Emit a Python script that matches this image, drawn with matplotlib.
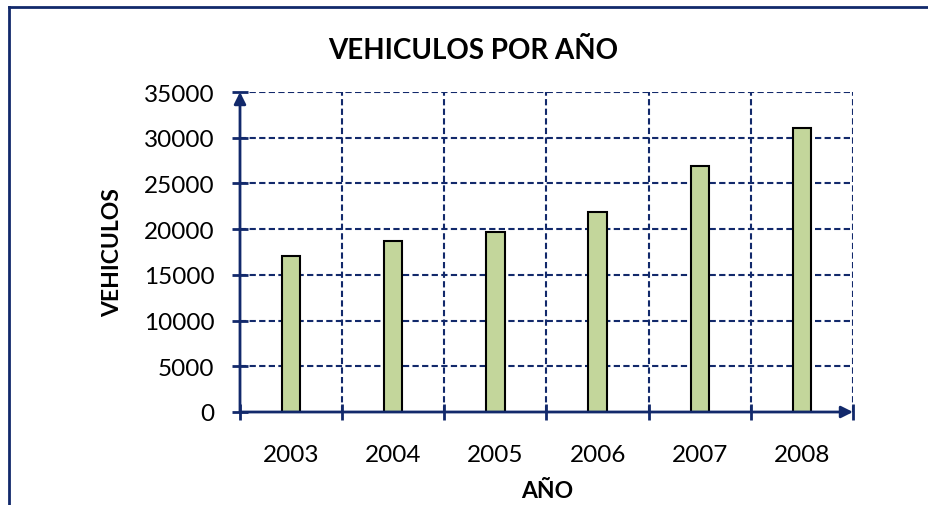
import matplotlib
matplotlib.use("Agg")
import matplotlib.pyplot as plt
from matplotlib.lines import Line2D

plt.rcParams['font.family'] = ['Lato', 'DejaVu Sans']

years = ["2003", "2004", "2005", "2006", "2007", "2008"]
vehiculos = [17100, 18700, 19700, 21900, 26900, 31100]
y_ticks = [0, 5000, 10000, 15000, 20000, 25000, 30000, 35000]

NAVY = "#12296b"
BAR_FILL = "#c3d69b"

fig = plt.figure(figsize=(9.29, 5.06), dpi=100)
W, H = 929, 506
ax = fig.add_axes([240 / W, (H - 413) / H, 613 / W, 320 / H])

x = list(range(len(years)))
ax.bar(x, vehiculos, width=0.18, color=BAR_FILL, edgecolor="black",
       linewidth=1.5, zorder=3)

ax.set_xlim(-0.5, len(years) - 0.5)
ax.set_ylim(0, 35000)

for s in ax.spines.values():
    s.set_visible(False)

# category labels (no tick marks) and boundary ticks crossing the axis
ax.set_xticks(x)
ax.set_xticklabels(years)
ax.set_xticks([i - 0.5 for i in range(len(years) + 1)], minor=True)
ax.tick_params(axis="x", which="major", length=0, pad=23, labelsize=17.5)
ax.tick_params(axis="x", which="minor", direction="inout", length=11,
               width=2, color=NAVY)

ax.set_yticks(y_ticks)
ax.set_yticklabels([str(v) for v in y_ticks])
ax.tick_params(axis="y", which="major", direction="inout", length=11,
               width=2, color=NAVY, pad=13, labelsize=17.5)

# dashed grid
for v in y_ticks[1:]:
    ax.axhline(v, color=NAVY, lw=1.5, ls=(0, (3, 1.6)), zorder=1)
for i in range(1, len(years) + 1):
    ax.axvline(i - 0.5, color=NAVY, lw=1.5, ls=(0, (3, 1.6)), zorder=1)

# axes with arrow heads
ax.annotate("", xy=(-0.5, 35000), xytext=(-0.5, 0),
            arrowprops=dict(arrowstyle="-|>,head_length=0.7,head_width=0.35",
                            color=NAVY, lw=2, shrinkA=0, shrinkB=0),
            annotation_clip=False, zorder=4)
ax.annotate("", xy=(len(years) - 0.5, 0), xytext=(-0.5, 0),
            arrowprops=dict(arrowstyle="-|>,head_length=0.7,head_width=0.35",
                            color=NAVY, lw=2, shrinkA=0, shrinkB=0),
            annotation_clip=False, zorder=4)

fig.text(473 / W, 1 - 51 / H, "VEHICULOS POR AÑO", ha="center", va="center",
         fontsize=20, fontweight="bold")
fig.text(113 / W, 1 - 253 / H, "VEHICULOS", ha="center", va="center",
         rotation=90, fontsize=16.5, fontweight="bold")
fig.text(547 / W, 1 - 492 / H, "AÑO", ha="center", va="center",
         fontsize=16.5, fontweight="bold")

# outer chart border
fig.add_artist(Line2D([9 / W, 9 / W], [0, 1 - 8 / H], transform=fig.transFigure,
                      color=NAVY, lw=2))
fig.add_artist(Line2D([9 / W, 1], [1 - 8 / H, 1 - 8 / H], transform=fig.transFigure,
                      color=NAVY, lw=2))

fig.savefig("out.png", dpi=100)
